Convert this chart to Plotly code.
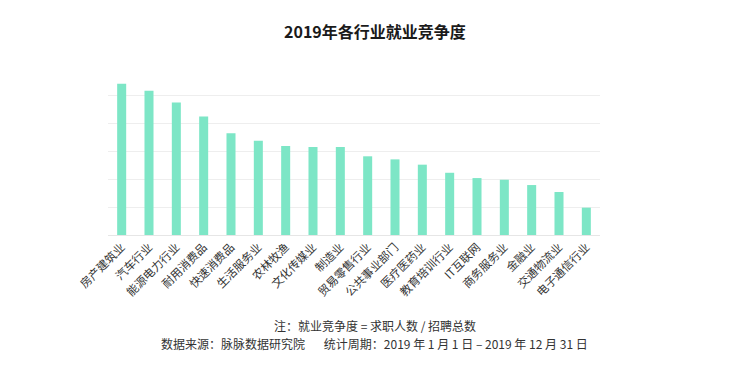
import plotly.graph_objects as go

categories = ["房产建筑业", "汽车行业", "能源电力行业", "耐用消费品", "快速消费品", "生活服务业",
              "农林牧渔", "文化传媒业", "制造业", "贸易零售行业", "公共事业部门", "医疗医药业",
              "教育培训行业", "IT互联网", "商务服务业", "金融业", "交通物流业", "电子通信行业"]
values = [5.42, 5.17, 4.75, 4.25, 3.65, 3.38, 3.19, 3.15, 3.15, 2.82, 2.71, 2.52,
          2.23, 2.04, 1.98, 1.79, 1.54, 0.98]

title_text = "<b>2019年各行业就业竞争度</b>"
note_text = "注：就业竞争度 = 求职人数 / 招聘总数"
source_text = "数据来源：脉脉数据研究院&nbsp;&nbsp;&nbsp;&nbsp;&nbsp;&nbsp;&nbsp;统计周期：2019 年 1 月 1 日 – 2019 年 12 月 31 日"

font_family = "Noto Sans CJK SC, Noto Sans, sans-serif"

W, H = 749, 378
L, R, T, B = 108, 149, 67, 143
plot_w = W - L - R
plot_h = H - T - B

fig = go.Figure(go.Bar(
    x=categories, y=values,
    marker=dict(color="#7de6c6", line=dict(width=0)),
    hoverinfo="x+y",
))

def px_y(py):
    return (H - B - py) / plot_h

def px_x(px):
    return (px - L) / plot_w

fig.update_layout(
    width=W, height=H,
    margin=dict(l=L, r=R, t=T, b=B),
    paper_bgcolor="white", plot_bgcolor="white",
    bargap=0.67,
    showlegend=False,
    font=dict(family=font_family, color="#333333", size=11),
    xaxis=dict(tickangle=-45, showline=True, linecolor="#e6e6e6", linewidth=1,
               ticks="", tickfont=dict(size=11.5, color="#333333"), fixedrange=True,
               automargin=False),
    yaxis=dict(range=[0, 6.02], tickvals=[1, 2, 3, 4, 5, 6], showticklabels=False, showgrid=True,
               gridcolor="#eeeeee", gridwidth=1, zeroline=False, fixedrange=True,
               automargin=False),
    annotations=[
        dict(text=title_text, x=px_x(W / 2), xref="paper", xanchor="center",
             y=px_y(31), yref="paper", yanchor="middle", showarrow=False,
             font=dict(size=16, color="#1a1a1a")),
        dict(text=note_text, x=px_x(W / 2), xref="paper", xanchor="center",
             y=px_y(325), yref="paper", yanchor="middle", showarrow=False,
             font=dict(size=12, color="#333333")),
        dict(text=source_text, x=px_x(W / 2), xref="paper", xanchor="center",
             y=px_y(343), yref="paper", yanchor="middle", showarrow=False,
             font=dict(size=12, color="#333333")),
    ],
)

fig.write_html("out.html", config={"displayModeBar": False},
               post_script="document.body.style.margin='0';")
